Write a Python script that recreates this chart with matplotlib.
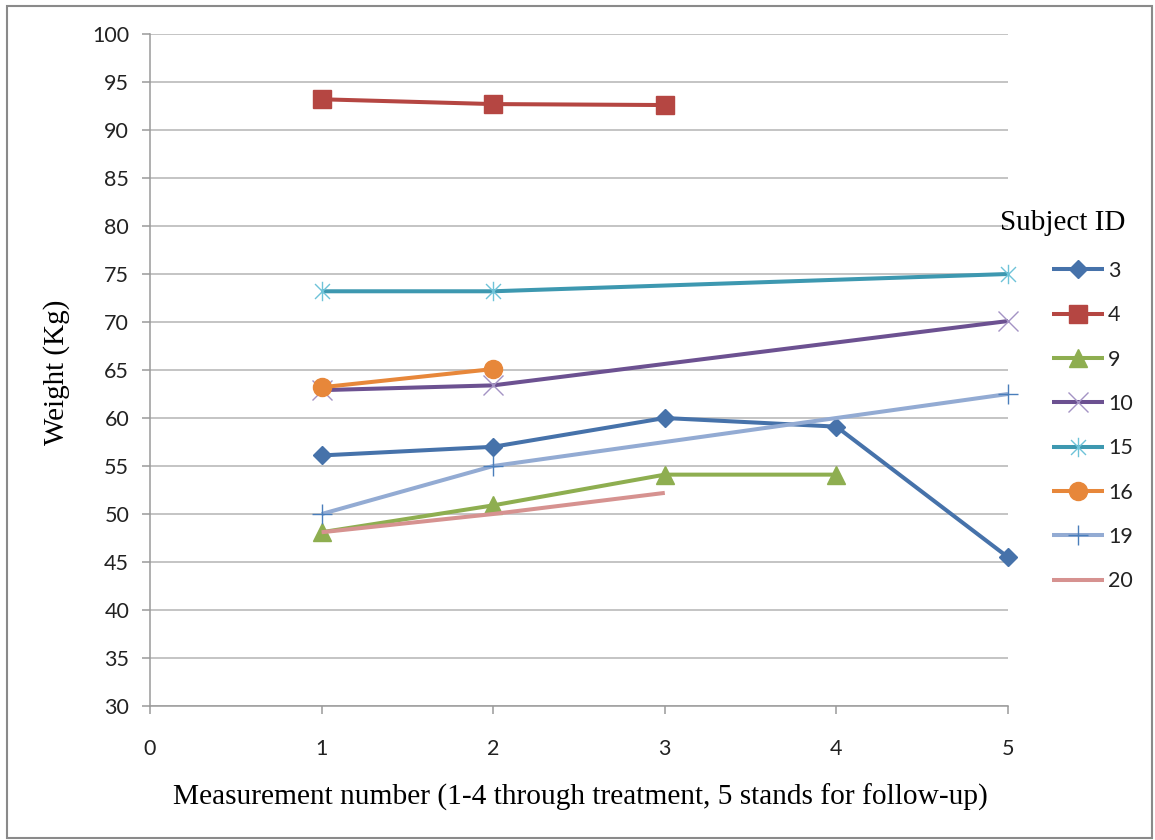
import matplotlib
matplotlib.use("Agg")
import matplotlib.pyplot as plt
from matplotlib.path import Path
from matplotlib.patches import Rectangle

# ---- data ----
subject_ids = ["3", "4", "9", "10", "15", "16", "19", "20"]
x_s3 = [1, 2, 3, 4, 5]
y_s3 = [56.1, 57.0, 60.0, 59.1, 45.5]
x_s4 = [1, 2, 3]
y_s4 = [93.2, 92.7, 92.6]
x_s9 = [1, 2, 3, 4]
y_s9 = [48.1, 50.9, 54.1, 54.1]
x_s10 = [1, 2, 5]
y_s10 = [62.9, 63.4, 70.1]
x_s15 = [1, 2, 5]
y_s15 = [73.2, 73.2, 75.0]
x_s16 = [1, 2]
y_s16 = [63.2, 65.1]
x_s19 = [1, 2, 5]
y_s19 = [50.0, 55.0, 62.5]
x_s20 = [1, 2, 3]
y_s20 = [48.1, 50.0, 52.2]

x_ticks = [0, 1, 2, 3, 4, 5]
y_ticks = [30, 35, 40, 45, 50, 55, 60, 65, 70, 75, 80, 85, 90, 95, 100]

xs = [x_s3, x_s4, x_s9, x_s10, x_s15, x_s16, x_s19, x_s20]
ys = [y_s3, y_s4, y_s9, y_s10, y_s15, y_s16, y_s19, y_s20]

# ---- styles ----
colors = ["#4672aa", "#b54642", "#8eae50", "#6c5191", "#3d98b0", "#e7873a", "#93abd3", "#d69290"]
marker_colors = ["#4672aa", "#b54642", "#8eae50", "#a493c4", "#6ec3d8", "#e7873a", "#4a7ebb", "#d69290"]
asterisk = Path([(-1, -1), (1, 1), (-1, 1), (1, -1), (0, -1.3), (0, 1.3)],
                [Path.MOVETO, Path.LINETO, Path.MOVETO, Path.LINETO, Path.MOVETO, Path.LINETO])
markers = ["D", "s", "^", "x", asterisk, "o", "+", None]
msizes = [9.5, 13, 13, 14, 14, 13, 15, 0]

sans = ["Lato", "DejaVu Sans"]
serif = ["Liberation Serif", "DejaVu Serif"]

W, H = 1155, 840
fig = plt.figure(figsize=(W / 100, H / 100), dpi=100)
ax = fig.add_axes([150 / W, 1 - 706 / H, (1008 - 150) / W, (706 - 34) / H])

handles = []
for i in range(len(subject_ids)):
    m = markers[i]
    filled = m in ("D", "s", "^", "o")
    ln, = ax.plot(xs[i], ys[i], color=colors[i], lw=2.9,
                  marker=m, markersize=msizes[i],
                  markerfacecolor=marker_colors[i] if filled else "none",
                  markeredgecolor=marker_colors[i], markeredgewidth=1.0,
                  solid_capstyle="butt", zorder=3, clip_on=False,
                  label=subject_ids[i])
    handles.append(ln)

ax.set_xlim(0, 5)
ax.set_ylim(30, 100)
ax.set_xticks(x_ticks)
ax.set_yticks(y_ticks)
ax.set_xticklabels([str(v) for v in x_ticks], fontfamily=sans, fontsize=15.5, color="#222222")
ax.set_yticklabels([str(v) for v in y_ticks], fontfamily=sans, fontsize=15.5, color="#222222")
ax.grid(axis="y", color="#b4b4b4", lw=1.1, zorder=0)
ax.set_axisbelow(True)
for s in ["top", "right"]:
    ax.spines[s].set_visible(False)
for s in ["left", "bottom"]:
    ax.spines[s].set_color("#9a9a9a")
    ax.spines[s].set_linewidth(1.1)
ax.tick_params(axis="both", direction="out", length=6, width=1.1, color="#9a9a9a")
ax.tick_params(axis="y", pad=9)
ax.tick_params(axis="x", pad=18)

fig.text(580 / W, 1 - 797 / H,
         "Measurement number (1-4 through treatment, 5 stands for follow-up)",
         ha="center", va="center", fontfamily=serif, fontsize=21.2)
fig.text(57 / W, 1 - 372 / H, "Weight (Kg)", rotation=90,
         ha="center", va="center", fontfamily=serif, fontsize=21)
fig.text(1000 / W, 1 - 223 / H, "Subject ID", ha="left", va="center",
         fontfamily=serif, fontsize=21)

leg = fig.legend(handles=handles, loc="upper left",
                 bbox_to_anchor=(1052 / W, 1 - 261 / H), bbox_transform=fig.transFigure,
                 frameon=False, borderpad=0, borderaxespad=0,
                 handlelength=2.4, handletextpad=0.2, labelspacing=1.13,
                 prop={"family": sans, "size": 15.5})
for t in leg.get_texts():
    t.set_color("#222222")

fig.patches.append(Rectangle((7 / W, 2 / H), (1152 - 7) / W, (834 - 2) / H,
                             transform=fig.transFigure, fill=False,
                             edgecolor="#8a8a8a", lw=1.5))

fig.savefig("out.png", dpi=100)
